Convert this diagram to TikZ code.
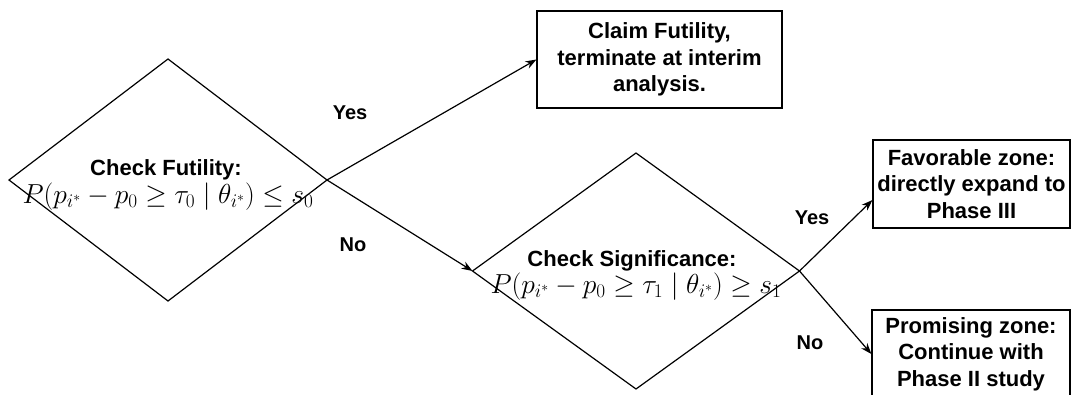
\RequirePackage{fix-cm}
\documentclass[tikz,border=0pt]{standalone}
\usepackage{fontspec}
\setmainfont{Liberation Sans}
\usepackage{tikz}
\usetikzlibrary{arrows.meta,positioning,shapes.geometric,calc}

\tikzset{
  decision/.style={draw, diamond, line width=1.2pt, inner sep=0pt, outer sep=0pt},
  outcome/.style={draw, rectangle, line width=1.2pt, align=center, inner sep=2pt,
    font=\fontsize{22}{26.5}\selectfont\bfseries},
  cond/.style={font=\fontsize{22}{26.5}\selectfont\bfseries, inner sep=0pt, anchor=base},
  formula/.style={font=\fontsize{27.5}{32}\selectfont, inner sep=0pt, anchor=base},
  answer/.style={font=\fontsize{20}{24}\selectfont\bfseries},
  flow/.style={line width=1.2pt, -{Stealth[length=11pt,width=8pt]}}
}

\begin{document}
\begin{tikzpicture}[x=1pt,y=-1pt]
\clip (0,0) rectangle (1071,394);

% Futility check
\node[decision, minimum width=318pt, minimum height=242pt] (fut) at (168,180) {};
\node[cond] (futtxt) at (166,175) {Check Futility:};
\node[formula] (futeq) at (168,203) {$P(p_{i^*}-p_0\geq\tau_0\mid\theta_{i^*})\leq s_0$};

% Significance check
\node[decision, minimum width=327pt, minimum height=236pt] (sig) at (636,271) {};
\node[cond] (sigtxt) at (632,266) {Check Significance:};
\node[formula] (sigeq) at (636,293) {$P(p_{i^*}-p_0\geq\tau_1\mid\theta_{i^*})\geq s_1$};

% Outcomes
\node[outcome, minimum width=245pt, minimum height=97pt] (claim) at (659.5,59.5)
  {Claim Futility,\\terminate at interim\\analysis.};
\node[outcome, minimum width=197pt, minimum height=88pt] (fav) at (971.5,184)
  {Favorable zone:\\directly expand to\\Phase III};
\node[outcome, minimum width=198pt, minimum height=88pt] (prom) at (971,354)
  {Promising zone:\\Continue with\\Phase II study};

% Connections
\draw[flow] (fut.east) -- (claim.west);
\draw[flow] (fut.east) -- (sig.west);
\draw[flow] (sig.east) -- ($(fav.south west)!0.32!(fav.north west)$);
\draw[flow] (sig.east) -- (prom.west);

% Answers
\node[answer] (yes1) at (350,113) {Yes};
\node[answer] (no1) at (353,245) {No};
\node[answer] (yes2) at (812,218) {Yes};
\node[answer] (no2) at (810,343) {No};
\end{tikzpicture}
\end{document}
